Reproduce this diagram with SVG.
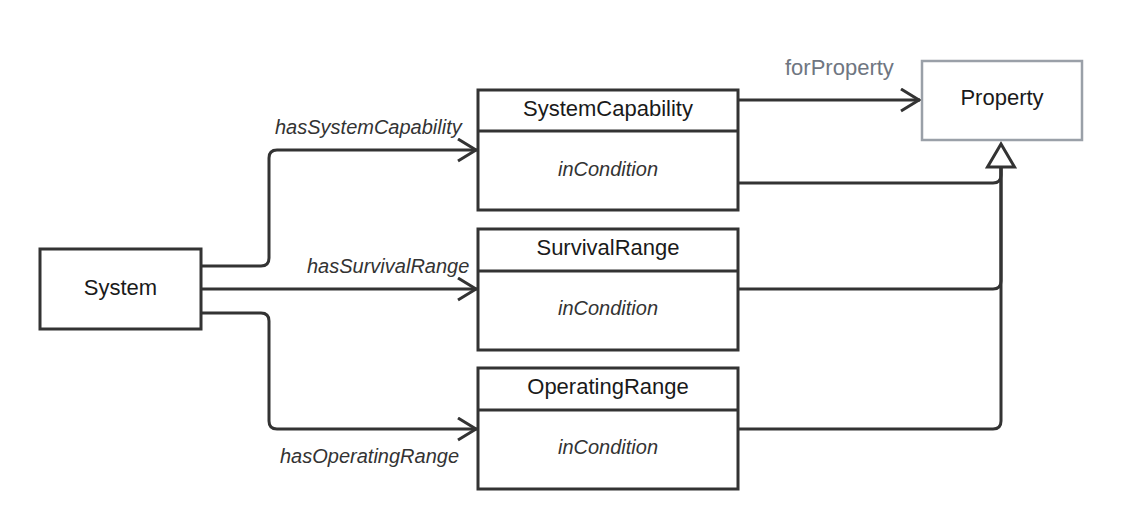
<svg xmlns="http://www.w3.org/2000/svg" width="1122" height="530" viewBox="0 0 1122 530">
  <style>
    .box { fill: #ffffff; stroke: #333333; stroke-width: 3; }
    .pbox { fill: #ffffff; stroke: #9aa0a8; stroke-width: 2.5; }
    .name { font-family: "Liberation Sans", Arial, sans-serif; font-size: 22px; fill: #1a1a1a; text-anchor: middle; }
    .attr { font-family: "Liberation Sans", Arial, sans-serif; font-size: 20px; font-style: italic; fill: #333333; text-anchor: middle; }
    .lbl { font-family: "Liberation Sans", Arial, sans-serif; font-size: 20px; font-style: italic; fill: #333333; }
    .glbl { font-family: "Liberation Sans", Arial, sans-serif; font-size: 22px; fill: #6f7681; }
    .conn { fill: none; stroke: #333333; stroke-width: 3; }
  </style>
  <defs>
    <marker id="chev" markerUnits="userSpaceOnUse" markerWidth="26" markerHeight="28" refX="21" refY="12" orient="auto">
      <path d="M2,1 L20,12 L2,23" fill="none" stroke="#333333" stroke-width="3"/>
    </marker>
  </defs>
  <rect width="1122" height="530" fill="#ffffff"/>

  <g id="connectors">
    <path class="conn" d="M201,266 H261 Q269,266 269,258 V158 Q269,150 277,150 H477" marker-end="url(#chev)"/>
    <path class="conn" d="M201,289 H477" marker-end="url(#chev)"/>
    <path class="conn" d="M201,313 H261 Q269,313 269,321 V421 Q269,429 277,429 H477" marker-end="url(#chev)"/>
    <path class="conn" d="M738,100 H920" marker-end="url(#chev)"/>
    <path class="conn" d="M738,183 H993 Q1001,183 1001,175 V166"/>
    <path class="conn" d="M738,289 H993 Q1001,289 1001,281 V166"/>
    <path class="conn" d="M738,429 H993 Q1001,429 1001,421 V166"/>
    <polygon points="1001,144 987.5,167 1014.5,167" fill="#ffffff" stroke="#333333" stroke-width="3"/>
    <text class="lbl" x="275" y="134">hasSystemCapability</text>
    <text class="lbl" x="307" y="273">hasSurvivalRange</text>
    <text class="lbl" x="280" y="463">hasOperatingRange</text>
    <text class="glbl" x="785" y="75">forProperty</text>
  </g>

  <g id="system">
    <rect class="box" x="40" y="249" width="161" height="80"/>
    <text class="name" x="120.5" y="295">System</text>
  </g>

  <g id="systemCapability">
    <rect class="box" x="478" y="90" width="260" height="120"/>
    <line class="box" x1="478" y1="131" x2="738" y2="131"/>
    <text class="name" x="608" y="116">SystemCapability</text>
    <text class="attr" x="608" y="176">inCondition</text>
  </g>

  <g id="survivalRange">
    <rect class="box" x="478" y="229" width="260" height="121"/>
    <line class="box" x1="478" y1="271" x2="738" y2="271"/>
    <text class="name" x="608" y="255">SurvivalRange</text>
    <text class="attr" x="608" y="315">inCondition</text>
  </g>

  <g id="operatingRange">
    <rect class="box" x="478" y="368" width="260" height="121"/>
    <line class="box" x1="478" y1="410" x2="738" y2="410"/>
    <text class="name" x="608" y="394">OperatingRange</text>
    <text class="attr" x="608" y="454">inCondition</text>
  </g>

  <g id="property">
    <rect class="pbox" x="922" y="61" width="160" height="79"/>
    <text class="name" x="1002" y="105">Property</text>
  </g>
</svg>
